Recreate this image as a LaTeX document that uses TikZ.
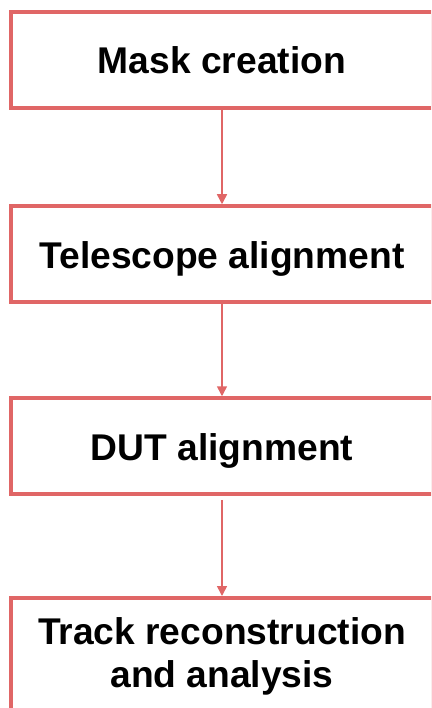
\documentclass[tikz,border=0pt]{standalone}
\usepackage{fontspec}
\setmainfont{Liberation Sans}
\usetikzlibrary{arrows.meta}
\definecolor{boxred}{HTML}{E06666}
\begin{document}
\begin{tikzpicture}[x=1pt,y=-1pt,
  stepbox/.style={draw=boxred,line width=3.5pt,minimum width=422pt,minimum height=96pt,
    inner sep=0pt,font=\fontsize{37.2}{43}\selectfont\bfseries,text height=28pt,text depth=0pt},
  steptext/.style={font=\fontsize{37.2}{43}\selectfont\bfseries,align=center,inner sep=0pt},
  flow/.style={draw=boxred,line width=1.5pt,-{Triangle[length=10pt,width=10pt]}}]
\useasboundingbox (0,0) rectangle (431,708);
\clip (0,0) rectangle (431,708);
\node[stepbox] (b1) at (222,60) {Mask creation};
\node[stepbox] (b2) at (222,254) {Telescope alignment};
\node[stepbox] (b3) at (222,446) {DUT alignment};
\node[stepbox,minimum height=140pt,anchor=north] (b4) at (222,596) {};
\node[steptext,anchor=north] (t4) at (222,617) {Track reconstruction\\and analysis};
\draw[flow] (b1) -- (b2);
\draw[flow] (b2) -- (b3);
\draw[flow,shorten <=4pt] (b3) -- (b4);
\end{tikzpicture}
\end{document}
